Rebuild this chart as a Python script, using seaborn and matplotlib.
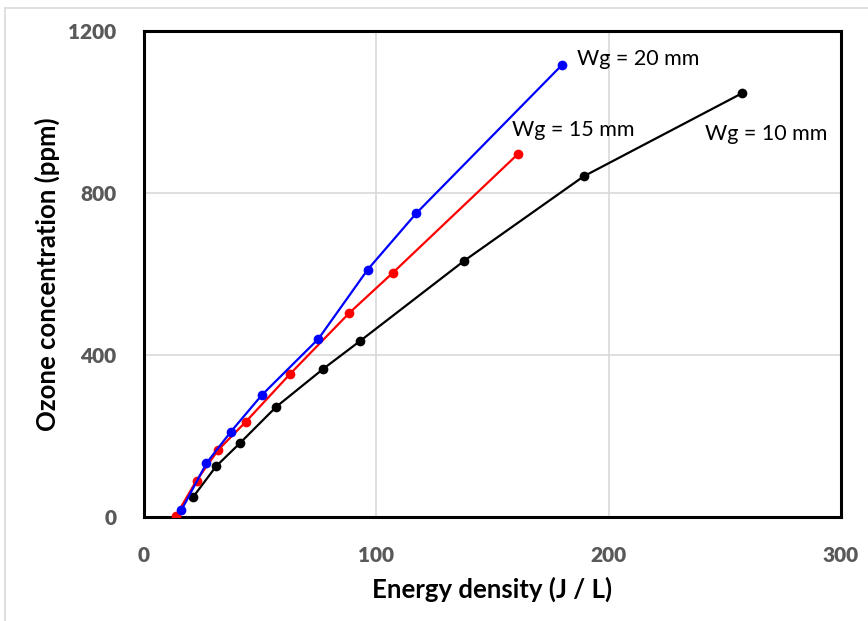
import matplotlib
matplotlib.use("Agg")
import matplotlib.pyplot as plt
from matplotlib.patches import Rectangle
import seaborn as sns
import pandas as pd

# Data
energy_10 = [21.1, 31.0, 41.4, 56.9, 77.2, 93.1, 137.9, 189.2, 257.3]
ozone_10 = [49, 125, 183, 272, 366, 435, 633, 841, 1046]

energy_15 = [13.6, 22.6, 32.0, 43.8, 63.0, 88.4, 107.1, 160.9]
ozone_15 = [2, 90, 166, 235, 354, 504, 603, 896]

energy_20 = [16.1, 26.9, 37.3, 50.7, 75.1, 96.3, 117.2, 179.7]
ozone_20 = [17, 133, 210, 301, 440, 611, 750, 1115]

series_names = ["Wg = 10 mm", "Wg = 15 mm", "Wg = 20 mm"]
series_colors = ["#000000", "#ff0000", "#0000ff"]

x_ticks = [0, 100, 200, 300]
y_ticks = [0, 400, 800, 1200]
x_label = "Energy density (J / L)"
y_label = "Ozone concentration (ppm)"

frames = []
for name, xs, ys in zip(series_names,
                        [energy_10, energy_15, energy_20],
                        [ozone_10, ozone_15, ozone_20]):
    frames.append(pd.DataFrame({"energy": xs, "ozone": ys, "series": name}))
df = pd.concat(frames, ignore_index=True)

sns.set_theme(style="white")
plt.rcParams["font.family"] = ["Lato", "DejaVu Sans"]

fig = plt.figure(figsize=(8.68, 6.21), dpi=100)
ax = fig.add_axes([144 / 868, 1 - 517 / 621, (841 - 144) / 868, (517 - 31) / 621])

# light outer frame of the figure
fig.patches.append(Rectangle((5 / 868, -0.2), 1.2, 0.2 + (1 - 8 / 621),
                             transform=fig.transFigure, fill=False,
                             edgecolor="#d9d9d9", linewidth=1.2, zorder=0))

sns.lineplot(data=df, x="energy", y="ozone", hue="series",
             hue_order=series_names, palette=series_colors,
             marker="o", markersize=7, markeredgewidth=0,
             linewidth=1.6, sort=False, estimator=None, units="series",
             legend=False, ax=ax, zorder=3)

ax.set_xlim(0, 300)
ax.set_ylim(0, 1200)
ax.set_xticks(x_ticks)
ax.set_yticks(y_ticks)
ax.set_xticklabels([str(t) for t in x_ticks], fontweight="heavy",
                   fontsize=15, color="#595959")
ax.set_yticklabels([str(t) for t in y_ticks], fontweight="heavy",
                   fontsize=15, color="#595959")

ax.grid(True, color="#d9d9d9", linewidth=1.2)
ax.set_axisbelow(True)
for s in ax.spines.values():
    s.set_color("black")
    s.set_linewidth(2.2)

ax.tick_params(axis="x", direction="in", length=5, width=1.2, color="black", pad=21)
ax.tick_params(axis="y", length=0, pad=20)

ax.set_xlabel(x_label, fontsize=18.5, fontweight="bold", color="black", labelpad=8)
ax.set_ylabel(y_label, fontsize=18.5, fontweight="bold", color="black", labelpad=6)

ax.text(186.5, 1132, series_names[2], fontsize=15.5, color="black", va="center", ha="left")
ax.text(158.5, 955, series_names[1], fontsize=15.5, color="black", va="center", ha="left")
ax.text(241.5, 945, series_names[0], fontsize=15.5, color="black", va="center", ha="left")

fig.savefig("out.png", dpi=100)
